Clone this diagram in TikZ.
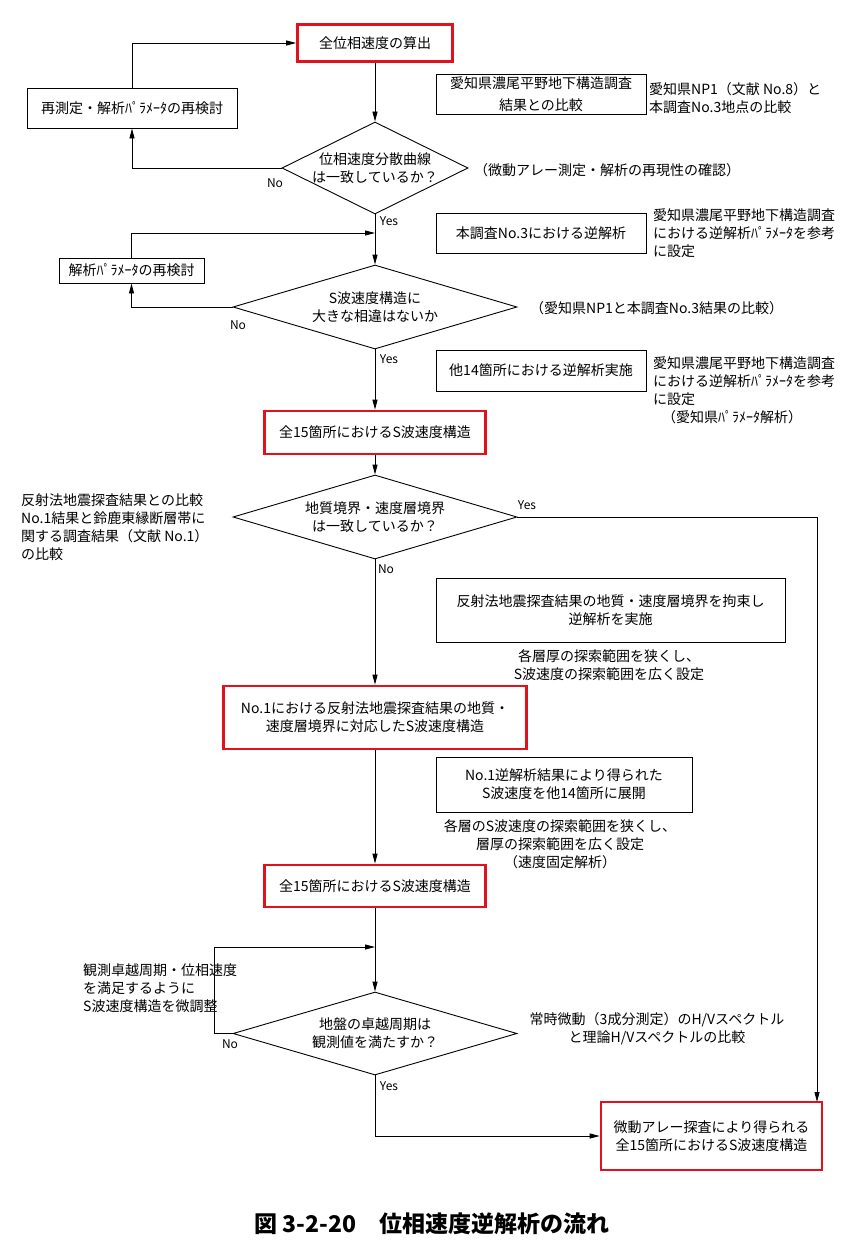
\documentclass[tikz,border=0pt]{standalone}
\usepackage{fontspec}
\setmainfont{Noto Sans CJK JP}
\usetikzlibrary{shapes.geometric,arrows.meta}
\definecolor{boxred}{RGB}{226,18,28}

\begin{document}
\begin{tikzpicture}[x=1pt,y=-1pt,
    font=\fontsize{14}{18}\selectfont,
    redbox/.style={draw=boxred,line width=2.6pt,align=center,inner sep=0pt},
    blackbox/.style={draw,line width=0.9pt,align=center,inner sep=0pt},
    decision/.style={draw,diamond,line width=0.9pt,align=center,inner sep=-10pt,aspect=2},
    note/.style={align=left,anchor=west,inner sep=0pt},
    remark/.style={align=center,inner sep=0pt},
    answer/.style={font=\fontsize{12}{14}\selectfont,inner sep=0pt},
    flow/.style={line width=0.9pt,-{Triangle[length=10pt,width=5pt]}}]
  \useasboundingbox (0,0) rectangle (852,1258);
  % main column
  \draw
    (375,43) node[redbox,minimum width=155,minimum height=37] (t1) {全位相速度の算出}
    (375,168) node[decision,minimum width=186,minimum height=92] (d1) {位相速度分散曲線\\は一致しているか？}
    (375,307) node[decision,minimum width=284,minimum height=84] (d2) {S波速度構造に\\大きな相違はないか}
    (375,432.5) node[redbox,minimum width=221,minimum height=43] (s1) {全15箇所におけるS波速度構造}
    (375,517) node[decision,minimum width=284,minimum height=84] (d3) {地質境界・速度層境界\\は一致しているか？}
    (375,717.5) node[redbox,minimum width=303,minimum height=63] (n1) {No.1における反射法地震探査結果の地質・\\速度層境界に対応したS波速度構造}
    (375,886) node[redbox,minimum width=221,minimum height=42] (s2) {全15箇所におけるS波速度構造}
    (375,1033.5) node[decision,minimum width=284,minimum height=83] (d4) {地盤の卓越周期は\\観測値を満たすか？}
    (711.5,1136) node[redbox,minimum width=221,minimum height=68] (f) {微動アレー探査により得られる\\全15箇所におけるS波速度構造};
  % loop boxes
  \draw
    (132,108) node[blackbox,minimum width=210,minimum height=40] (r1) {再測定・解析ﾊﾟﾗﾒｰﾀの再検討}
    (131.5,270.5) node[blackbox,minimum width=145,minimum height=25] (r2) {解析ﾊﾟﾗﾒｰﾀの再検討};
  % side boxes
  \draw
    (541,94) node[blackbox,minimum width=210,minimum height=40] (b1) {愛知県濃尾平野地下構造調査\\[4pt]結果との比較}
    (541,233) node[blackbox,minimum width=210,minimum height=40] (b2) {本調査No.3における逆解析}
    (541,370.5) node[blackbox,minimum width=210,minimum height=41] (b3) {他14箇所における逆解析実施}
    (610.5,610) node[blackbox,minimum width=349,minimum height=64] (b4) {反射法地震探査結果の地質・速度層境界を拘束し\\逆解析を実施}
    (564,784.5) node[blackbox,minimum width=256,minimum height=55] (b5) {No.1逆解析結果により得られた\\S波速度を他14箇所に展開};
  % remarks
  \draw
    (649,98) node[note] (c1) {愛知県NP1（文献 No.8）と\\本調査No.3地点の比較}
    (474,170) node[note] (c2) {（微動アレー測定・解析の再現性の確認）}
    (653,233) node[note] (c3) {愛知県濃尾平野地下構造調査\\における逆解析ﾊﾟﾗﾒｰﾀを参考\\に設定}
    (530,308) node[note] (c4) {（愛知県NP1と本調査No.3結果の比較）}
    (653,390) node[note] (c5) {愛知県濃尾平野地下構造調査\\における逆解析ﾊﾟﾗﾒｰﾀを参考\\に設定\\\hspace*{9pt}（愛知県ﾊﾟﾗﾒｰﾀ解析）}
    (21,527) node[note] (c6) {反射法地震探査結果との比較\\No.1結果と鈴鹿東縁断層帯に\\関する調査結果（文献 No.1）\\の比較}
    (609,665) node[remark] (c7) {各層厚の探索範囲を狭くし、\\S波速度の探索範囲を広く設定}
    (560,844) node[remark] (c8) {各層のS波速度の探索範囲を狭くし、\\層厚の探索範囲を広く設定\\（速度固定解析）}
    (83,988) node[note] (c9) {観測卓越周期・位相速度\\を満足するように\\S波速度構造を微調整}
    (657,1029) node[remark] (c10) {常時微動（3成分測定）のH/Vスペクトル\\と理論H/Vスペクトルの比較};
  % answers
  \draw
    (275,183) node[answer] (a1) {No}
    (389,221) node[answer] (a2) {Yes}
    (238,325) node[answer] (a3) {No}
    (389,359) node[answer] (a4) {Yes}
    (527,505) node[answer] (a5) {Yes}
    (386,569) node[answer] (a6) {No}
    (230,1044) node[answer] (a7) {No}
    (389,1086) node[answer] (a8) {Yes};
  \coordinate (m1) at (375,233);
  \coordinate (m2) at (375,947);
  \coordinate (k1) at (817,1102);
  \begin{scope}[flow]
    \draw (t1) -- (d1);
    \draw (d1.west) -| (r1.south);
    \draw (r1.north) |- (t1.west);
    \draw (d1) -- (d2);
    \draw (d2.west) -| (r2.south);
    \draw (r2.north) |- (m1);
    \draw (d2) -- (s1);
    \draw (s1) -- (d3);
    \draw (d3.east) -| (k1);
    \draw (d3) -- (n1);
    \draw (n1) -- (s2);
    \draw (s2) -- (d4);
    \draw (d4.west) -- ++(-18,0) |- (m2);
    \draw (d4.south) |- (f.west);
  \end{scope}
  \node[font=\fontsize{23}{26}\selectfont\bfseries] (cap) at (432,1224) {図 3-2-20　位相速度逆解析の流れ};
\end{tikzpicture}
\end{document}
